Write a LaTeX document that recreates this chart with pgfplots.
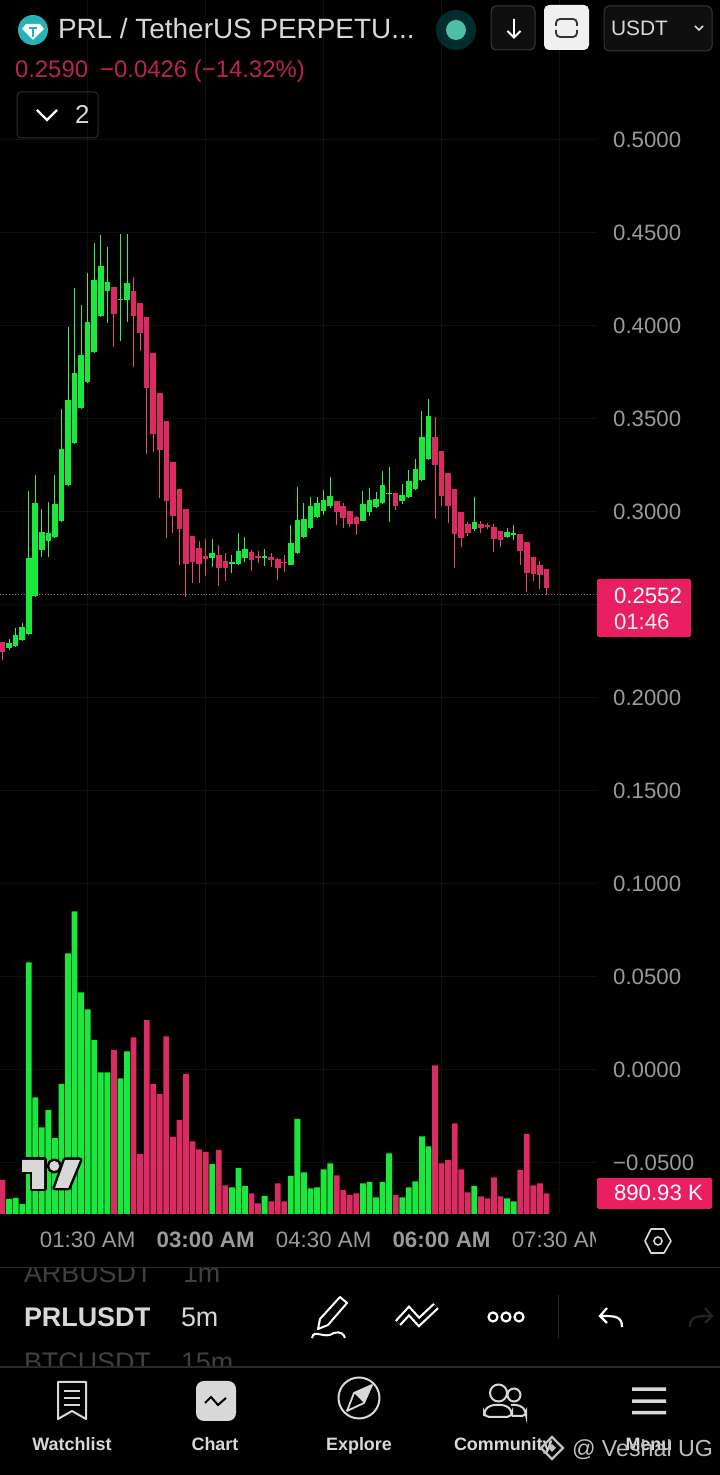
\documentclass[border=0pt]{standalone}
\usepackage{fontspec}
\setmainfont{Liberation Sans}
\usepackage{pgfplots}
\pgfplotsset{compat=1.18}
\definecolor{gup}{HTML}{1BE83D}
\definecolor{rdn}{HTML}{DB2B63}
\definecolor{box}{HTML}{E91E63}
\definecolor{gridc}{HTML}{101010}
\definecolor{tickc}{HTML}{9A9A9A}
\definecolor{uic}{HTML}{D8D8D8}
\definecolor{dotc}{HTML}{4DBFA6}
\newcommand\fs[1]{\fontsize{#1}{#1}\selectfont}
% candle: index, high, body top, body bottom, low
\newcommand\G[5]{\addplot[gup!85!white,line width=1bp] coordinates {(#1,#5)(#1,#2)};\addplot[gup,line width=5.6bp] coordinates {(#1,#4)(#1,#3)};}
\newcommand\R[5]{\addplot[rdn!85!white,line width=1bp] coordinates {(#1,#5)(#1,#2)};\addplot[rdn,line width=5.6bp] coordinates {(#1,#4)(#1,#3)};}
\begin{document}
\begin{tikzpicture}
\fill[black] (0,0) rectangle (720bp,1475bp);
\useasboundingbox (0,0) rectangle (720bp,1475bp);
\begin{axis}[
  at={(0,261bp)},anchor=south west,scale only axis,width=597bp,height=1214bp,
  xmin=-0.3815,xmax=90.72,ymin=-0.07796,ymax=0.57473,
  axis line style={draw=none},major tick length=0pt,
  grid=major,major grid style={gridc,line width=0.8bp},
  xtick={13,31,49,67,85},
  xticklabels={01:30 AM,\textbf{03:00 AM},04:30 AM,\textbf{06:00 AM},07:30 AM},
  xticklabel style={font=\fs{22.4},text=tickc,anchor=base,yshift=-34bp,inner sep=0pt},
  ytick={-0.05,0,0.05,0.1,0.15,0.2,0.25,0.3,0.35,0.4,0.45,0.5},
  yticklabels={−0.0500,0.0000,0.0500,0.1000,0.1500,0.2000,,0.3000,0.3500,0.4000,0.4500,0.5000},
  yticklabel pos=right,
  yticklabel style={font=\fs{22.3},text=tickc,anchor=west,xshift=16bp,yshift=-0.5bp,inner sep=0pt},
]
\addplot[rdn!50!white!65!black,line width=1bp,dotted] coordinates {(-0.38,0.2552)(90.72,0.2552)};
\R{0}{.2297}{.2297}{.2240}{.2199}
\G{1}{.2310}{.2288}{.2265}{.2253}
\G{2}{.2369}{.2333}{.2274}{.2271}
\G{3}{.2400}{.2378}{.2307}{.2303}
\G{4}{.3109}{.2749}{.2337}{.2333}
\G{5}{.3195}{.3045}{.2543}{.2540}
\G{6}{.3009}{.2889}{.2790}{.2755}
\G{7}{.3050}{.2884}{.2837}{.2755}
\G{8}{.3194}{.3039}{.2859}{.2853}
\G{9}{.3547}{.3332}{.2944}{.2941}
\G{10}{.3991}{.3597}{.3138}{.3134}
\G{11}{.4197}{.3740}{.3364}{.3360}
\G{12}{.4106}{.3840}{.3552}{.3548}
\G{13}{.4282}{.4014}{.3692}{.3688}
\G{14}{.4439}{.4244}{.3853}{.3850}
\G{15}{.4482}{.4319}{.4047}{.4043}
\G{16}{.4418}{.4229}{.4181}{.4009}
\R{17}{.4206}{.4206}{.4057}{.3883}
\G{18}{.4489}{.4142}{.4133}{.3916}
\G{19}{.4489}{.4224}{.4134}{.4018}
\R{20}{.4256}{.4181}{.4050}{.3776}
\R{21}{.4117}{.4117}{.3959}{.3862}
\R{22}{.4041}{.4041}{.3660}{.3305}
\R{23}{.3851}{.3851}{.3412}{.3319}
\R{24}{.3636}{.3636}{.3326}{.3068}
\R{25}{.3482}{.3482}{.3052}{.2853}
\R{26}{.3265}{.3265}{.2973}{.2884}
\R{27}{.3120}{.3120}{.2901}{.2710}
\R{28}{.3013}{.3013}{.2717}{.2540}
\R{29}{.2867}{.2867}{.2724}{.2611}
\R{30}{.2840}{.2799}{.2713}{.2615}
\R{31}{.2848}{.2760}{.2740}{.2651}
\G{32}{.2848}{.2776}{.2745}{.2701}
\R{33}{.2817}{.2763}{.2695}{.2597}
\R{34}{.2772}{.2733}{.2692}{.2625}
\G{35}{.2763}{.2726}{.2715}{.2665}
\G{36}{.2880}{.2787}{.2713}{.2710}
\G{37}{.2859}{.2794}{.2749}{.2728}
\R{38}{.2790}{.2778}{.2737}{.2679}
\R{39}{.2787}{.2760}{.2745}{.2719}
\G{40}{.2794}{.2758}{.2747}{.2704}
\R{41}{.2772}{.2754}{.2737}{.2701}
\R{42}{.2745}{.2742}{.2692}{.2629}
\R{43}{.2763}{.2724}{.2719}{.2674}
\G{44}{.2925}{.2830}{.2712}{.2708}
\G{45}{.3131}{.2952}{.2772}{.2769}
\G{46}{.3041}{.2959}{.2859}{.2855}
\G{47}{.3073}{.3029}{.2907}{.2903}
\G{48}{.3073}{.3045}{.2966}{.2962}
\G{49}{.3113}{.3059}{.3002}{.2979}
\G{50}{.3181}{.3083}{.3029}{.3014}
\R{51}{.3056}{.3056}{.2996}{.2925}
\R{52}{.3041}{.3029}{.2961}{.2907}
\R{53}{.2998}{.2998}{.2930}{.2912}
\R{54}{.2973}{.2966}{.2930}{.2871}
\G{55}{.3109}{.3038}{.2948}{.2944}
\G{56}{.3125}{.3059}{.2993}{.2973}
\G{57}{.3100}{.3063}{.3023}{.3014}
\G{58}{.3217}{.3142}{.3041}{.3038}
\G{59}{.3235}{.3095}{.3090}{.2943}
\R{60}{.3095}{.3095}{.3029}{.3005}
\G{61}{.3143}{.3086}{.3056}{.3038}
\G{62}{.3220}{.3163}{.3073}{.3070}
\G{63}{.3280}{.3224}{.3117}{.3113}
\G{64}{.3539}{.3396}{.3165}{.3161}
\G{65}{.3600}{.3513}{.3278}{.3274}
\R{66}{.3507}{.3400}{.3246}{.2957}
\R{67}{.3324}{.3324}{.3081}{.3027}
\R{68}{.3203}{.3203}{.3029}{.2934}
\R{69}{.3120}{.3120}{.2875}{.2692}
\R{70}{.2996}{.2996}{.2857}{.2805}
\R{71}{.2943}{.2928}{.2884}{.2866}
\G{72}{.3073}{.2939}{.2903}{.2894}
\R{73}{.2948}{.2928}{.2907}{.2880}
\R{74}{.2937}{.2926}{.2916}{.2901}
\R{75}{.2928}{.2916}{.2851}{.2781}
\R{76}{.2891}{.2891}{.2844}{.2805}
\G{77}{.2907}{.2887}{.2862}{.2855}
\G{78}{.2925}{.2880}{.2873}{.2844}
\R{79}{.2878}{.2878}{.2786}{.2710}
\R{80}{.2835}{.2835}{.2668}{.2566}
\R{81}{.2754}{.2754}{.2661}{.2625}
\R{82}{.2731}{.2710}{.2654}{.2579}
\R{83}{.2686}{.2686}{.2586}{.2548}
\end{axis}
\begin{axis}[
  at={(0,261bp)},anchor=south west,scale only axis,width=597bp,height=1214bp,
  xmin=-0.3815,xmax=90.72,ymin=0,ymax=52202,
  hide axis,ybar,bar shift=0pt,bar width=5.8bp,
]
\addplot[draw=none,fill=gup] coordinates {(1,645)(2,688)(3,430)(4,10823)(5,5018)(6,3728)(7,4472)(8,3268)(9,5590)(10,11210)(11,13016)(12,9533)(13,8802)(14,7482)(15,6093)(16,6093)(18,5835)(19,6996)(32,2150)(35,1148)(36,1978)(37,1204)(40,774)(44,1634)(45,4085)(46,1793)(47,1105)(48,1148)(49,1922)(50,2180)(55,1320)(56,1376)(57,718)(58,1376)(59,2610)(61,718)(62,1148)(63,1406)(64,3341)(65,2911)(72,1204)(77,675)(78,546)};
\addplot[draw=none,fill=rdn] coordinates {(0,1462)(17,7052)(20,7598)(21,2580)(22,8342)(23,5590)(24,5160)(25,7641)(26,3311)(27,4042)(28,6020)(29,3126)(30,2782)(31,2666)(33,2752)(34,1234)(38,890)(39,460)(41,546)(42,1320)(43,546)(51,1664)(52,1032)(53,817)(54,890)(60,817)(66,6394)(67,2180)(68,2322)(69,3900)(70,1922)(71,933)(73,761)(74,675)(75,1578)(76,761)(79,1892)(80,3440)(81,1234)(82,1320)(83,891)};
\end{axis}
\begin{scope}[x=1bp,y=-1bp,shift={(0,1475bp)},every node/.style={inner sep=0pt,outer sep=0pt}]
% clip of time axis
\fill[black] (596,1222) rectangle (640,1262);
% TV logo
\begin{scope}[line join=round]
\draw[black,line width=5bp] (22,1160)--(44,1160)--(44,1189)--(32,1189)--(32,1172)--(22,1172)--cycle;
\draw[black,line width=5bp] (65,1160)--(80,1160)--(68.3,1188)--(55,1188)--cycle;
\draw[black,line width=5bp] (54.3,1166) circle (5);
\fill[uic] (22,1160)--(44,1160)--(44,1189)--(32,1189)--(32,1172)--(22,1172)--cycle;
\fill[uic] (65,1160)--(80,1160)--(68.3,1188)--(55,1188)--cycle;
\fill[uic] (54.3,1166) circle (5);
\end{scope}
% price boxes
\fill[box,rounded corners=1.5] (597,579) rectangle (691,637);
\node[anchor=base west,white] at (614,604) {\fs{22.3}0.2552};
\node[anchor=base west,white!92!box] at (614,630) {\fs{22.3}01:46};
\fill[box,rounded corners=1.5] (597,1178) rectangle (712,1209);
\node[anchor=base west,white] at (614,1201) {\fs{22.3}890.93 K};
% header
\fill[teal!70!cyan!85!white] (33,30) circle (15);
\fill[white] (26,24)--(40,24)--(44,29)--(33,40)--(22,29)--cycle;
\fill[teal!70!cyan!85!white] (29,27) rectangle (37,29);
\fill[teal!70!cyan!85!white] (32,29) rectangle (34,37);
\node[anchor=base west,text=uic] at (58,39) {\fs{28}PRL / TetherUS PERPETU...};
\node[anchor=base west,text=rdn!85!black] at (15,78) {\fs{24}0.2590\hspace{12bp}−0.0426 (−14.32\%)};
\draw[white!18!black,line width=1bp,rounded corners=4] (17,92) rectangle (98,138);
\draw[white,line width=2.4bp] (37,110)--(47,120)--(57,110);
\node[anchor=base west,text=uic] at (75,124) {\fs{26}2};
\fill[teal!35!black] (456,30) circle (20);
\fill[dotc] (456,30) circle (10);
\draw[white!22!black,line width=1bp,fill=black!94!white,rounded corners=5] (491,6) rectangle (535,50);
\draw[white,line width=1.8bp] (514,19)--(514,37) (507.5,31)--(514,37.5)--(520.5,31);
\fill[white!94!black,rounded corners=5] (544,5) rectangle (589,50);
\draw[black!80,line width=1.8bp,rounded corners=4] (556,26)--(556,19)--(577,19)--(577,26);
\draw[black!80,line width=1.8bp,rounded corners=4] (556,30)--(556,37)--(577,37)--(577,30);
\draw[white!22!black,line width=1bp,fill=black!94!white,rounded corners=5] (604,6) rectangle (712,51);
\node[anchor=base west,text=uic] at (611,36) {\fs{21}USDT};
\draw[uic,line width=1.5bp] (695,26)--(699,30)--(703,26);
% time-axis hexagon
\draw[uic,line width=1.6bp,line join=round] (645,1241)--(651,1229)--(664,1229)--(671,1241)--(664,1253)--(651,1253)--cycle;
\draw[uic,line width=1.6bp] (658,1241) circle (4);
% separators
\draw[white!16!black,line width=1.5bp] (0,1267.5)--(720,1267.5) (0,1367)--(720,1367);
% symbol picker
\begin{scope}
\clip (0,1268.5) rectangle (149,1366);
\node[anchor=base west,text=white!25!black] at (24,1283) {\fs{27}ARBUSDT};
\node[anchor=base west,text=white!25!black] at (24,1372) {\fs{27}BTCUSDT};
\end{scope}
\begin{scope}
\clip (150,1268.5) rectangle (720,1366);
\node[anchor=base west,text=white!25!black] at (183,1283) {\fs{27}1m};
\node[anchor=base west,text=white!25!black] at (181,1372) {\fs{27}15m};
\end{scope}
\begin{scope}
\clip (0,1290) rectangle (149,1340);
\node[anchor=base west,text=uic] at (24,1327) {\fs{27}\textbf{PRLUSDT}};
\end{scope}
\node[anchor=base west,text=uic] at (181,1327) {\fs{27}5m};
% tools
\draw[white,line width=2bp,line join=round] (340,1297)--(347,1303)--(328,1325)--(318,1329)--(320,1319)--cycle;
\draw[white,line width=2bp] (312,1338) .. controls (314,1328) and (324,1340) .. (334,1333) .. controls (340,1331) and (344,1334) .. (345,1338);
\draw[white,line width=8bp,line join=miter] (398,1323)--(409,1311)--(419,1322)--(436,1306);
\draw[black,line width=3.6bp,line join=miter] (398,1323)--(409,1311)--(419,1322)--(436,1306);
\draw[white,line width=2.2bp] (493,1317) circle (4.5) (506,1317) circle (4.5) (519,1317) circle (4.5);
\draw[white!18!black,line width=1.2bp] (558.5,1295)--(558.5,1338);
\draw[white,line width=2.2bp] (622,1327) .. controls (622,1316) and (615,1316) .. (600,1316) (607,1308)--(600,1316)--(607,1323);
\draw[white!14!black,line width=2.2bp] (690,1327) .. controls (690,1316) and (697,1316) .. (712,1316) (705,1308)--(712,1316)--(705,1323);
% nav bar
\draw[uic,line width=2bp,line join=round] (58,1382)--(86,1382)--(86,1419)--(72,1411)--(58,1419)--cycle;
\draw[uic,line width=2bp] (64,1391)--(80,1391) (64,1398)--(80,1398) (64,1405)--(80,1405);
\fill[uic,rounded corners=8] (196,1381) rectangle (236,1421);
\draw[black,line width=2bp] (205,1403)--(211,1397)--(218,1405)--(226,1398);
\draw[uic,line width=2bp] (359,1398) circle (20.5);
\draw[uic,line width=1.8bp,line join=round] (372,1385)--(364,1403)--(347,1411)--(354,1393)--cycle;
\fill[uic] (372,1385)--(364,1403)--(354,1393)--cycle;
\draw[uic,line width=2bp] (498.5,1393) circle (8.5) (514,1395) circle (6.5);
\draw[uic,line width=2bp,rounded corners=5] (484,1417)--(484,1411)--(490,1405)--(506,1405)--(512,1411)--(512,1417)--cycle;
\draw[uic,line width=2bp,rounded corners=4] (511,1405)--(520,1405)--(526,1411)--(526,1416)--(512,1416);
\fill[uic] (632,1387.5) rectangle (666,1391) (632,1399.5) rectangle (666,1403) (632,1411) rectangle (666,1414.5);
\node[anchor=base,text=uic] at (72,1451) {\fs{18}\textbf{Watchlist}};
\node[anchor=base,text=uic] at (215,1451) {\fs{18}\textbf{Chart}};
\node[anchor=base,text=uic] at (359,1451) {\fs{18}\textbf{Explore}};
\node[anchor=base west,text=uic] at (454,1451) {\fs{18}\textbf{Community}};
\node[anchor=base,text=uic] at (649,1451) {\fs{18}\textbf{Menu}};
% watermark
\draw[white!75!black,line width=2.4bp] (552,1437)--(541,1448)--(552,1459)--(563,1448)--cycle;
\fill[white!75!black] (552,1444)--(556,1448)--(552,1452)--(548,1448)--cycle;
\node[anchor=base west,text=white!75!black] at (572,1457) {\fs{23.3}@ Veshal UG};
\end{scope}
\end{tikzpicture}
\end{document}
